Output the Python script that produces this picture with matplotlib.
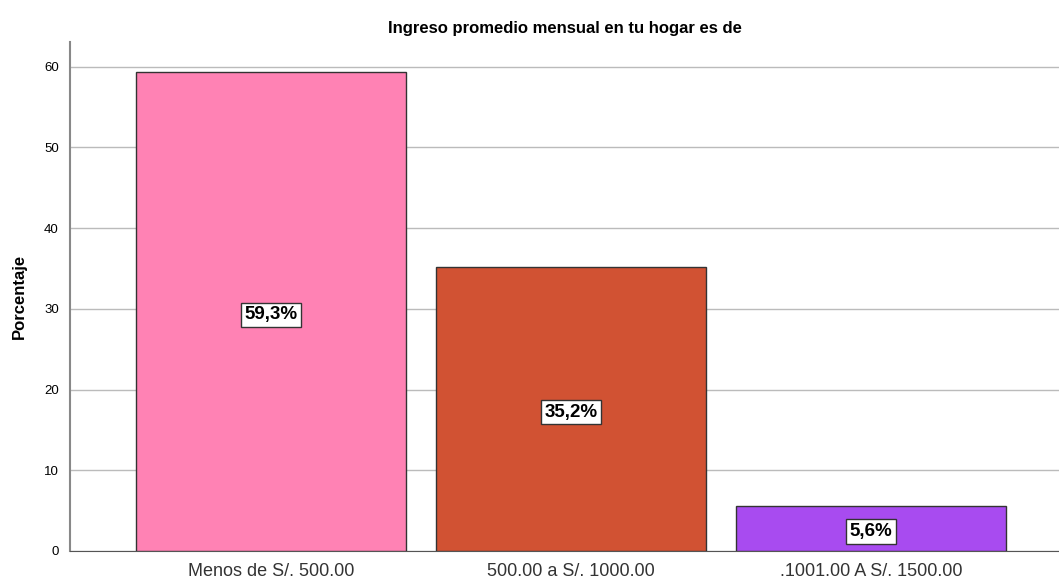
import matplotlib.pyplot as plt

plt.rcParams['font.family'] = ['Liberation Sans', 'DejaVu Sans']

# datos del grafico
categorias = ['Menos de S/. 500.00', '500.00 a S/. 1000.00', '.1001.00 A S/. 1500.00']
porcentajes = [59.3, 35.2, 5.6]
etiquetas = ['59,3%', '35,2%', '5,6%']
colores = ['#FF82B4', '#D15233', '#A84BF0']
yticks = [0, 10, 20, 30, 40, 50, 60]

fig = plt.figure(figsize=(10.59, 5.82), dpi=100)
ax = fig.add_axes([0.0661, 0.0533, 0.9339, 0.875])

x = range(len(categorias))
bars = ax.bar(x, porcentajes, width=0.9, color=colores, edgecolor='#333333', linewidth=1, zorder=3)

for b, txt in zip(bars, etiquetas):
    ax.text(b.get_x() + b.get_width() / 2, b.get_height() / 2 - 0.4, txt,
            ha='center', va='center', fontsize=13.5, fontweight='bold', zorder=4,
            bbox=dict(boxstyle='square,pad=0.2', fc='white', ec='#333333', lw=1))

ax.set_xlim(-0.67, 2.627)
ax.set_ylim(0, 63.1)
ax.set_yticks(yticks)
ax.set_xticks(list(x))
ax.set_xticklabels(categorias, fontsize=13, color='#333333')
ax.tick_params(axis='y', length=0, labelsize=9.5, pad=8)
ax.tick_params(axis='x', length=0, pad=9)
ax.yaxis.grid(True, color='#BBBBBB', linewidth=1, zorder=0)

for s in ['top', 'right']:
    ax.spines[s].set_visible(False)
ax.spines['left'].set_color('#888888')
ax.spines['left'].set_linewidth(1.5)
ax.spines['bottom'].set_color('#555555')

ax.set_ylabel('Porcentaje', fontsize=12, fontweight='bold', labelpad=12)
ax.set_title('Ingreso promedio mensual en tu hogar es de', fontsize=12, fontweight='bold', pad=6)

fig.savefig('out.png', dpi=100)
